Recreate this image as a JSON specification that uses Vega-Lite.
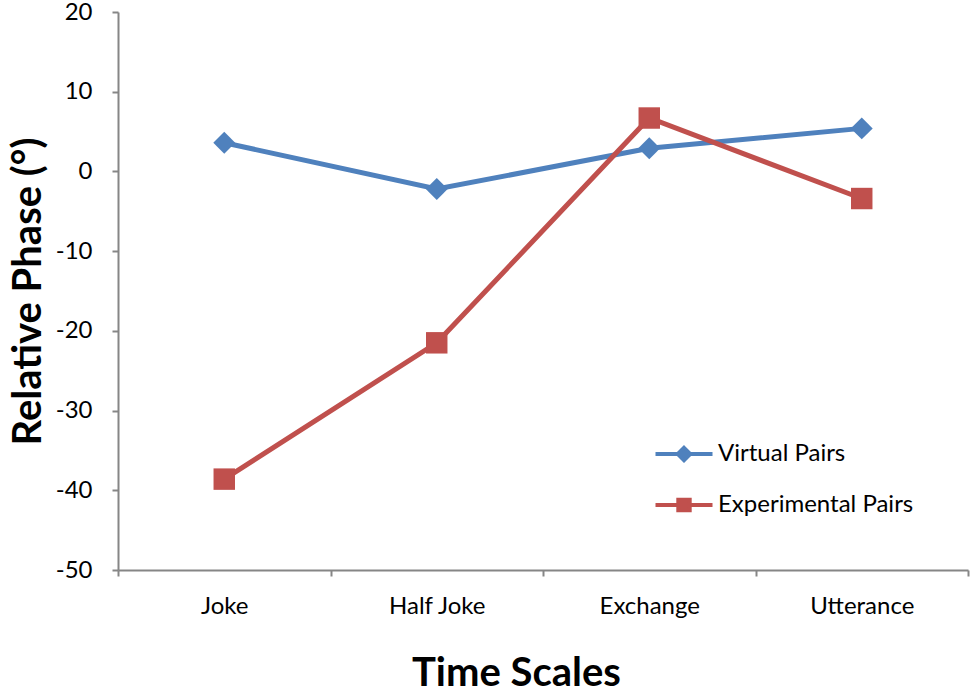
{
  "$schema": "https://vega.github.io/schema/vega-lite/v6.json",
  "autosize": {"type": "none"},
  "width": 850,
  "height": 558,
  "padding": {"left": 118, "top": 12, "right": 7, "bottom": 124},
  "background": "white",
  "config": {
    "view": {"stroke": null},
    "font": "Lato",
    "axis": {
      "domainColor": "#868686",
      "domainWidth": 2,
      "tickColor": "#868686",
      "tickWidth": 2,
      "tickSize": 6,
      "labelColor": "black",
      "labelFont": "Lato",
      "labelFontSize": 24,
      "titleFont": "Lato",
      "titleFontWeight": "bold",
      "titleFontSize": 40,
      "titleColor": "black",
      "grid": false
    }
  },
  "data": {
    "values": [
      {"scale": "Joke", "series": "Virtual Pairs", "phase": 3.6},
      {"scale": "Half Joke", "series": "Virtual Pairs", "phase": -2.2},
      {"scale": "Exchange", "series": "Virtual Pairs", "phase": 2.9},
      {"scale": "Utterance", "series": "Virtual Pairs", "phase": 5.4},
      {"scale": "Joke", "series": "Experimental Pairs", "phase": -38.6},
      {"scale": "Half Joke", "series": "Experimental Pairs", "phase": -21.5},
      {"scale": "Exchange", "series": "Experimental Pairs", "phase": 6.7},
      {"scale": "Utterance", "series": "Experimental Pairs", "phase": -3.4}
    ]
  },
  "encoding": {
    "x": {
      "field": "scale",
      "type": "nominal",
      "sort": ["Joke", "Half Joke", "Exchange", "Utterance"],
      "scale": {"type": "band", "paddingInner": 0, "paddingOuter": 0},
      "title": "Time Scales",
      "axis": {
        "labelAngle": 0,
        "labelPadding": 18,
        "tickBand": "extent",
        "titleX": 398,
        "titleY": 115,
        "titleBaseline": "alphabetic",
        "titleAlign": "center"
      }
    },
    "y": {
      "field": "phase",
      "type": "quantitative",
      "scale": {"domain": [-50, 20], "nice": false, "zero": false},
      "title": "Relative Phase (°)",
      "axis": {
        "values": [-50, -40, -30, -20, -10, 0, 10, 20],
        "labelExpr": "datum.value < 0 ? '-' + abs(datum.value) : '' + datum.value",
        "labelPadding": 20,
        "titleX": -90,
        "titleY": 279,
        "titleAlign": "center",
        "titleBaseline": "middle"
      }
    },
    "color": {
      "field": "series",
      "type": "nominal",
      "sort": ["Virtual Pairs", "Experimental Pairs"],
      "scale": {"domain": ["Virtual Pairs", "Experimental Pairs"], "range": ["#4F81BD", "#C0504D"]},
      "legend": {
        "title": null,
        "orient": "none",
        "legendX": 554,
        "legendY": 430,
        "labelFontSize": 24,
        "labelFont": "Lato",
        "labelColor": "black",
        "labelLimit": 0,
        "labelOffset": 22,
        "rowPadding": 22,
        "symbolSize": 361,
        "symbolStrokeWidth": 4,
        "encode": {
          "symbols": {
            "update": {
              "shape": {"signal": "datum.value === 'Virtual Pairs' ? 'M-3,0H3M0,-0.65L0.65,0L0,0.65L-0.65,0Z' : 'M-3,0H3M-0.6,-0.55H0.6V0.55H-0.6Z'"},
              "fillOpacity": {"value": 1}
            }
          }
        }
      }
    }
  },
  "layer": [
    {
      "mark": {"type": "line", "strokeWidth": 5}
    },
    {
      "transform": [{"filter": "datum.series === 'Virtual Pairs'"}],
      "mark": {"type": "point", "shape": "diamond", "filled": true, "opacity": 1, "size": 480}
    },
    {
      "transform": [{"filter": "datum.series === 'Experimental Pairs'"}],
      "mark": {"type": "point", "shape": "square", "filled": true, "opacity": 1, "size": 460}
    }
  ]
}
